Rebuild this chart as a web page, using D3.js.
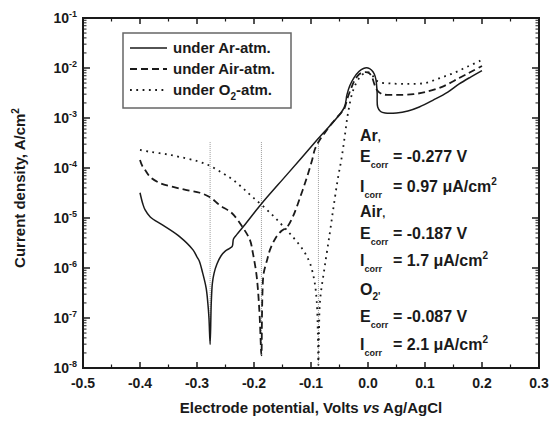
<!DOCTYPE html>
<html><head><meta charset="utf-8">
<script src="https://cdn.jsdelivr.net/npm/d3@7"></script>
<style>
body{margin:0;background:#fff}
text{font-family:"Liberation Sans",Arial,Helvetica,sans-serif;font-weight:bold;fill:#1a1a1a}
</style>
</head><body>
<svg id="c" width="551" height="421"></svg>
<script>
// ---- data (potential in V vs Ag/AgCl, current density in A/cm2) ----
const arPotential = [-0.400,-0.395,-0.391,-0.382,-0.360,-0.330,-0.307,-0.300,-0.296,-0.290,-0.284,-0.281,-0.279,-0.277,-0.275,-0.273,-0.270,-0.265,-0.258,-0.250,-0.242,-0.238,-0.236,-0.230,-0.215,-0.189,-0.140,-0.090,-0.042,-0.037,-0.032,-0.025,-0.016,-0.008,0.000,0.006,0.011,0.014,0.016,0.017,0.022,0.030,0.050,0.070,0.090,0.115,0.140,0.160,0.180,0.200];
const arCurrent = [3.2e-5,1.9e-5,1.45e-5,1.05e-5,7.2e-6,4.2e-6,2.3e-6,1.66e-6,1.38e-6,7.9e-7,4.0e-7,2.0e-7,1.0e-7,3.0e-8,2.0e-7,5.0e-7,7.9e-7,1.2e-6,1.74e-6,2.2e-6,2.5e-6,2.75e-6,3.8e-6,4.7e-6,7.6e-6,1.8e-5,7.9e-5,3.6e-4,1.6e-3,2.9e-3,4.4e-3,6.3e-3,8.5e-3,9.8e-3,1.0e-2,9.1e-3,7.6e-3,5.8e-3,3.2e-3,1.66e-3,1.35e-3,1.26e-3,1.26e-3,1.38e-3,1.66e-3,2.3e-3,3.3e-3,4.8e-3,6.6e-3,8.9e-3];

const airPotential = [-0.400,-0.396,-0.391,-0.382,-0.365,-0.342,-0.318,-0.295,-0.277,-0.260,-0.239,-0.219,-0.207,-0.202,-0.196,-0.193,-0.190,-0.187,-0.186,-0.185,-0.183,-0.177,-0.172,-0.162,-0.152,-0.142,-0.132,-0.119,-0.107,-0.098,-0.093,-0.085,-0.075,-0.063,-0.052,-0.042,-0.036,-0.030,-0.024,-0.015,-0.005,0.002,0.007,0.011,0.016,0.025,0.050,0.080,0.100,0.130,0.160,0.180,0.200];
const airCurrent = [1.45e-4,1.1e-4,9.1e-5,6.6e-5,5.0e-5,4.2e-5,3.6e-5,3.2e-5,2.6e-5,1.8e-5,1.26e-5,6.3e-6,3.6e-6,2.0e-6,7.9e-7,3.6e-7,1.05e-7,1.8e-8,1.05e-7,3.6e-7,7.9e-7,1.45e-6,2.3e-6,4.0e-6,5.5e-6,6.6e-6,1.05e-5,2.6e-5,6.6e-5,1.45e-4,2.4e-4,3.6e-4,5.2e-4,7.9e-4,1.1e-3,1.5e-3,2.5e-3,3.8e-3,5.5e-3,7.6e-3,8.3e-3,7.9e-3,6.6e-3,4.8e-3,3.6e-3,3.0e-3,2.9e-3,3.0e-3,3.3e-3,4.2e-3,6.3e-3,8.3e-3,1.1e-2];

const o2Potential = [-0.400,-0.382,-0.355,-0.330,-0.300,-0.277,-0.255,-0.237,-0.220,-0.202,-0.177,-0.154,-0.132,-0.114,-0.102,-0.094,-0.090,-0.088,-0.087,-0.086,-0.084,-0.076,-0.067,-0.060,-0.053,-0.046,-0.040,-0.035,-0.026,-0.014,-0.002,0.006,0.012,0.020,0.040,0.070,0.100,0.126,0.150,0.175,0.200];
const o2Current = [2.3e-4,2.1e-4,1.9e-4,1.66e-4,1.38e-4,1.1e-4,7.9e-5,5.8e-5,4.0e-5,2.6e-5,1.45e-5,7.9e-6,4.2e-6,2.3e-6,1.26e-6,5.5e-7,2.2e-7,5.0e-8,1.15e-8,5.0e-8,2.3e-7,1.05e-6,5.0e-6,1.8e-5,6.0e-5,1.66e-4,5.0e-4,1.26e-3,3.6e-3,6.6e-3,8.3e-3,7.6e-3,6.0e-3,5.2e-3,4.9e-3,4.8e-3,5.0e-3,6.3e-3,7.9e-3,1.07e-2,1.45e-2];

const ecorrValues = [-0.277,-0.187,-0.087];
const ecorrTop = [3.3e-4,3.3e-4,3.3e-4];
const ecorrBottom = [2.8e-8,1.8e-8,1.1e-8];

const xTickValues = [-0.5,-0.4,-0.3,-0.2,-0.1,0.0,0.1,0.2,0.3];
const xTickLabels = ["-0.5","-0.4","-0.3","-0.2","-0.1","0.0","0.1","0.2","0.3"];
const xMinorTicks = [-0.45,-0.35,-0.25,-0.15,-0.05,0.05,0.15,0.25];
const yTickValues = [1e-1,1e-2,1e-3,1e-4,1e-5,1e-6,1e-7,1e-8];
const yTickExponents = ["-1","-2","-3","-4","-5","-6","-7","-8"];

const legendLabels = [["under Ar-atm.",null,null],["under Air-atm.",null,null],["under O","2","-atm."]];

// ---- layout ----
const svg = d3.select("#c");
const L=83, R=539, T=18, B=368;
const x = d3.scaleLinear().domain([-0.5,0.3]).range([L,R]);
const y = d3.scaleLog().domain([1e-8,1e-1]).range([B,T]);
const ink = "#1a1a1a";

// ticks
const g = svg.append("g");
xTickValues.forEach(v=>{
  g.append("line").attr("x1",x(v)).attr("x2",x(v)).attr("y1",B).attr("y2",B-6).attr("stroke",ink).attr("stroke-width",1.5);
  g.append("line").attr("x1",x(v)).attr("x2",x(v)).attr("y1",T).attr("y2",T+6).attr("stroke",ink).attr("stroke-width",1.5);
});
xMinorTicks.forEach(v=>{
  g.append("line").attr("x1",x(v)).attr("x2",x(v)).attr("y1",B).attr("y2",B-3.5).attr("stroke",ink).attr("stroke-width",1.2);
  g.append("line").attr("x1",x(v)).attr("x2",x(v)).attr("y1",T).attr("y2",T+3.5).attr("stroke",ink).attr("stroke-width",1.2);
});
const allY = y.ticks();
allY.forEach(v=>{
  const major = yTickValues.some(t=>Math.abs(Math.log10(t)-Math.log10(v))<1e-9);
  const len = major?7:3.5;
  g.append("line").attr("x1",L).attr("x2",L+len).attr("y1",y(v)).attr("y2",y(v)).attr("stroke",ink).attr("stroke-width",major?1.5:1);
  g.append("line").attr("x1",R).attr("x2",R-len).attr("y1",y(v)).attr("y2",y(v)).attr("stroke",ink).attr("stroke-width",major?1.5:1);
});

// tick labels
xTickValues.forEach((v,i)=>{
  svg.append("text").attr("x",x(v)).attr("y",388).attr("text-anchor","middle").attr("font-size",14).text(xTickLabels[i]);
});
yTickValues.forEach((v,i)=>{
  const t = svg.append("text").attr("x",77).attr("y",y(v)+5).attr("text-anchor","end").attr("font-size",14);
  t.append("tspan").text("10");
  t.append("tspan").attr("dy",-6).attr("font-size",9).text(yTickExponents[i]);
});

// axis titles
const xt = svg.append("text").attr("x",(L+R)/2).attr("y",413).attr("text-anchor","middle").attr("font-size",15);
xt.append("tspan").text("Electrode potential, Volts ");
xt.append("tspan").attr("font-style","italic").text("vs");
xt.append("tspan").text(" Ag/AgCl");
const yt = svg.append("text").attr("transform","translate(25,188) rotate(-90)").attr("text-anchor","middle").attr("font-size",15);
yt.append("tspan").text("Current density, A/cm");
yt.append("tspan").attr("dy",-6).attr("font-size",10).text("2");

// Ecorr reference lines
ecorrValues.forEach((e,i)=>{
  svg.append("line").attr("x1",x(e)).attr("x2",x(e)).attr("y1",y(ecorrTop[i])).attr("y2",y(ecorrBottom[i]))
    .attr("stroke","#9a9a9a").attr("stroke-width",1).attr("stroke-dasharray","1,1");
});

// curves
const line = d3.line().x(d=>x(d[0])).y(d=>y(d[1])).curve(d3.curveCatmullRom.alpha(0.5));
const zip = (a,b)=>a.map((v,i)=>[v,b[i]]);
const styles = [
  {data:zip(arPotential,arCurrent), dash:null, w:1.5},
  {data:zip(airPotential,airCurrent), dash:"7,4", w:1.8},
  {data:zip(o2Potential,o2Current), dash:"1.8,4.5", w:1.8}
];
styles.forEach(s=>{
  const p = svg.append("path").attr("d",line(s.data)).attr("fill","none").attr("stroke",ink).attr("stroke-width",s.w);
  if(s.dash) p.attr("stroke-dasharray",s.dash);
});

// frame
svg.append("rect").attr("x",L).attr("y",T).attr("width",R-L).attr("height",B-T).attr("fill","none").attr("stroke",ink).attr("stroke-width",2);

// legend
svg.append("rect").attr("x",123).attr("y",33).attr("width",168).attr("height",75).attr("fill","#fff").attr("stroke","#666").attr("stroke-width",1.5);
const legY = [48,69,90];
legendLabels.forEach((lab,i)=>{
  const s = styles[i];
  const l = svg.append("line").attr("x1",130).attr("x2",167).attr("y1",legY[i]).attr("y2",legY[i]).attr("stroke",ink).attr("stroke-width",s.w);
  if(s.dash) l.attr("stroke-dasharray",s.dash);
  const t = svg.append("text").attr("x",173).attr("y",legY[i]+5).attr("font-size",15);
  t.append("tspan").text(lab[0]);
  if(lab[1]){
    t.append("tspan").attr("dy",5).attr("font-size",10).text(lab[1]);
    t.append("tspan").attr("dy",-5).text(lab[2]);
  }
});

// annotations
const annLabels = ["Ar,","Air,","O"];
const annE = ["= -0.277 V","= -0.187 V","= -0.087 V"];
const annI = ["= 0.97 \u03BCA/cm","= 1.7 \u03BCA/cm","= 2.1 \u03BCA/cm"];
const annBase = [[141,162,192],[217,239,266],[295,322,350]];
annLabels.forEach((lab,i)=>{
  const b = annBase[i];
  const t0 = svg.append("text").attr("x",360).attr("y",b[0]).attr("font-size",16);
  if(i===2){
    t0.append("tspan").text("O");
    t0.append("tspan").attr("dy",5).attr("font-size",10).text("2");
    t0.append("tspan").attr("font-size",10).text("'");
  } else {
    t0.append("tspan").text(lab.slice(0,-1));
    t0.append("tspan").attr("font-size",11).text(",");
  }
  const tE = svg.append("text").attr("x",360).attr("y",b[1]).attr("font-size",16);
  tE.append("tspan").text("E");
  tE.append("tspan").attr("dy",6).attr("font-size",9).text("corr");
  svg.append("text").attr("x",393).attr("y",b[1]).attr("font-size",16).text(annE[i]);
  const tI = svg.append("text").attr("x",360).attr("y",b[2]).attr("font-size",16);
  tI.append("tspan").text("I");
  tI.append("tspan").attr("dy",6).attr("font-size",9).text("corr");
  const tv = svg.append("text").attr("x",393).attr("y",b[2]).attr("font-size",16);
  tv.append("tspan").text(annI[i]);
  tv.append("tspan").attr("dy",-7).attr("font-size",10).text("2");
});
</script>
</body></html>
